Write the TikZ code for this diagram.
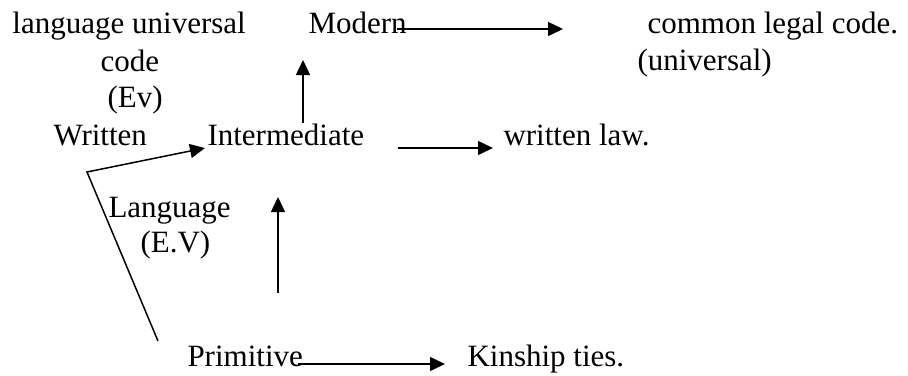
\documentclass[tikz,border=0pt]{standalone}
\usepackage{fontspec}
\setmainfont{Liberation Serif}
\usetikzlibrary{arrows.meta}

\begin{document}
\begin{tikzpicture}[x=0.4pt,y=-0.4pt,
  lbl/.style={anchor=base west,inner sep=0pt,font=\fontsize{12.4}{14}\selectfont},
  arr/.style={-{Triangle[length=6pt,width=5.6pt]},line width=0.6pt}]
  \useasboundingbox (0,0) rectangle (908,375);

  % top row
  \node[lbl] (lang) at (12,33) {language universal};
  \node[lbl] (code) at (100,71) {code};
  \node[lbl] (ev) at (107,107) {(Ev)};
  \node[lbl] (modern) at (308,33) {Modern};
  \node[lbl] (common) at (647,33) {common legal code.};
  \node[lbl] (univ) at (637,70) {(universal)};

  % middle row
  \node[lbl] (written) at (53,145) {Written};
  \node[lbl] (inter) at (207,145) {Intermediate};
  \node[lbl] (wlaw) at (503,145) {written law.};
  \node[lbl] (language) at (108,217) {Language};
  \node[lbl] (evb) at (140,252) {(E.V)};

  % bottom row
  \node[lbl] (prim) at (187,366) {Primitive};
  \node[lbl] (kin) at (467,366) {Kinship ties.};

  \draw[arr] ([shift={(-10,-4)}]modern.base east) -- ([shift={(-84,-4)}]common.base west);
  \draw[arr] ([shift={(96,-22)}]inter.base west) -- ([shift={(-5,27)}]modern.base west);
  \draw[arr] ([shift={(191,3)}]inter.base west) -- ([shift={(-10,3)}]wlaw.base west);
  \draw[arr] ([shift={(-29,-25)}]prim.base west) -- ([shift={(34,27)}]written.base west)
    -- ([shift={(-2,3)}]inter.base west);
  \draw[arr] ([shift={(91,-73)}]prim.base west) -- ([shift={(71,52)}]inter.base west);
  \draw[arr] ([shift={(111,-2)}]prim.base west) -- ([shift={(-22,-2)}]kin.base west);
\end{tikzpicture}
\end{document}
